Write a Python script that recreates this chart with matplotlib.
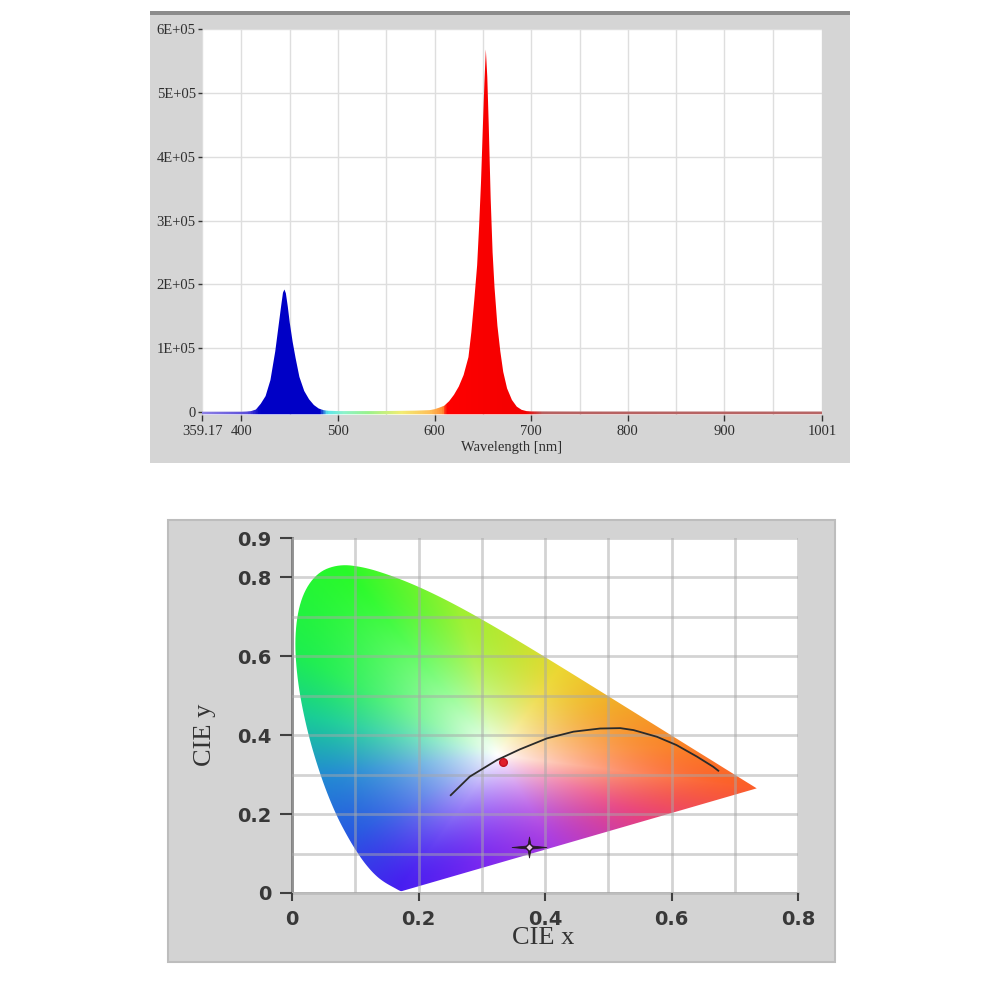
import numpy as np
import matplotlib
matplotlib.use("Agg")
import matplotlib.pyplot as plt
from matplotlib.patches import Rectangle, Polygon
from matplotlib.colors import LinearSegmentedColormap
from matplotlib.path import Path

# ---------------- data: emission spectrum ----------------
wavelength_nm = [359.17, 380, 400, 405, 410, 415, 420, 425, 430, 435, 438, 441, 443,
                 444.5, 446, 448, 450, 453, 456, 460, 465, 470, 475, 480, 485, 490,
                 500, 520, 540, 560, 580, 595, 600, 605, 610, 615, 620, 625, 630, 635,
                 638, 641, 644, 646, 648, 650, 651.5, 653, 654.5, 656, 658, 660, 662,
                 665, 668, 671, 675, 680, 685, 690, 695, 700, 750, 800, 900, 1001]
intensity_e5 = [0.005, 0.005, 0.005, 0.008, 0.015, 0.04, 0.13, 0.25, 0.5, 0.95, 1.3, 1.65, 1.87,
                1.92, 1.86, 1.65, 1.4, 1.1, 0.85, 0.55, 0.33, 0.2, 0.11, 0.055, 0.03, 0.02,
                0.015, 0.015, 0.015, 0.018, 0.022, 0.03, 0.045, 0.07, 0.1, 0.17, 0.27, 0.4, 0.58, 0.86,
                1.25, 1.75, 2.3, 2.9, 3.6, 4.5, 5.15, 5.68, 5.25, 4.5, 3.35, 2.5, 1.95,
                1.35, 0.95, 0.63, 0.37, 0.19, 0.085, 0.035, 0.015, 0.01, 0.008, 0.008, 0.008, 0.008]
x_tick_values = [359.17, 400, 500, 600, 700, 800, 900, 1001]
x_tick_labels = ["359.17", "400", "500", "600", "700", "800", "900", "1001"]
y_tick_values = [0, 1, 2, 3, 4, 5, 6]
y_tick_labels = ["0", "1E+05", "2E+05", "3E+05", "4E+05", "5E+05", "6E+05"]

# ---------------- data: CIE 1931 spectral locus ----------------
locus_x = [0.1741, 0.1740, 0.1738, 0.1736, 0.1733, 0.1730, 0.1726, 0.1721, 0.1714, 0.1703,
           0.1689, 0.1669, 0.1644, 0.1611, 0.1566, 0.1510, 0.1440, 0.1355, 0.1241, 0.1096,
           0.0913, 0.0687, 0.0454, 0.0235, 0.0082, 0.0039, 0.0139, 0.0389, 0.0743, 0.1142,
           0.1547, 0.1929, 0.2296, 0.2658, 0.3016, 0.3373, 0.3731, 0.4087, 0.4441, 0.4788,
           0.5125, 0.5448, 0.5752, 0.6029, 0.6270, 0.6482, 0.6658, 0.6801, 0.6915, 0.7006,
           0.7079, 0.7140, 0.7190, 0.7230, 0.7260, 0.7300, 0.7320, 0.7334, 0.7347]
locus_y = [0.0050, 0.0050, 0.0049, 0.0049, 0.0048, 0.0048, 0.0048, 0.0048, 0.0051, 0.0058,
           0.0069, 0.0086, 0.0109, 0.0138, 0.0177, 0.0227, 0.0297, 0.0399, 0.0578, 0.0868,
           0.1327, 0.2007, 0.2950, 0.4127, 0.5384, 0.6548, 0.7502, 0.8120, 0.8338, 0.8262,
           0.8059, 0.7816, 0.7543, 0.7243, 0.6923, 0.6589, 0.6245, 0.5896, 0.5547, 0.5202,
           0.4866, 0.4544, 0.4242, 0.3965, 0.3725, 0.3514, 0.3340, 0.3197, 0.3083, 0.2993,
           0.2920, 0.2859, 0.2809, 0.2770, 0.2740, 0.2700, 0.2680, 0.2666, 0.2653]
# black-body-like curve as drawn on the chart
curve_x = [0.251, 0.281, 0.324, 0.360, 0.403, 0.445, 0.487, 0.519, 0.540, 0.577, 0.608, 0.640, 0.666, 0.674]
curve_y = [0.248, 0.295, 0.337, 0.364, 0.392, 0.409, 0.417, 0.418, 0.413, 0.396, 0.375, 0.346, 0.320, 0.310]
point_red = (0.334, 0.333)
point_star = (0.374, 0.117)
cie_xticks = [0, 0.2, 0.4, 0.6, 0.8]
cie_xticklabels = ["0", "0.2", "0.4", "0.6", "0.8"]
cie_yticks = [0, 0.2, 0.4, 0.6, 0.8, 0.9]
cie_yticklabels = ["0", "0.2", "0.4", "0.6", "0.8", "0.9"]

# ---------------- figure ----------------
fig = plt.figure(figsize=(10, 10), dpi=100)
fig.patch.set_facecolor("white")

fig.add_artist(Rectangle((0.150, 0.537), 0.700, 0.451, transform=fig.transFigure,
                         fc="#d5d5d5", ec="none", zorder=-10))
fig.add_artist(Rectangle((0.150, 0.985), 0.700, 0.004, transform=fig.transFigure,
                         fc="#8c8c8c", ec="none", zorder=-9))
fig.add_artist(Rectangle((0.168, 0.038), 0.667, 0.442, transform=fig.transFigure,
                         fc="#d3d3d3", ec="#bdbdbd", lw=1.5, zorder=-10))

serif = "Liberation Serif"
tcol = "#2e2e2e"

# ---------------- top: spectrum ----------------
ax1 = fig.add_axes([0.202, 0.5854, 0.620, 0.3856])
ax1.set_facecolor("white")
xmin, xmax = 359.17, 1001
ymin, ymax = -0.04, 6.0

stops = [(359.17, (0.55, 0.50, 0.90)), (405, (0.35, 0.30, 0.85)), (418, (0.0, 0.0, 0.78)),
         (480, (0.0, 0.0, 0.78)), (488, (0.35, 0.90, 0.92)), (505, (0.55, 0.95, 0.80)),
         (530, (0.60, 0.95, 0.55)), (565, (0.95, 0.93, 0.45)), (595, (1.0, 0.75, 0.35)),
         (608, (1.0, 0.55, 0.20)), (612, (1.0, 0.0, 0.0)), (695, (0.95, 0.0, 0.0)),
         (712, (0.72, 0.38, 0.38)), (1001, (0.72, 0.40, 0.40))]
cmap = LinearSegmentedColormap.from_list(
    "spec", [((w - xmin) / (xmax - xmin), c) for w, c in stops])

poly = ax1.fill_between(wavelength_nm, -0.035, intensity_e5, facecolor="none", edgecolor="none")
grad = np.linspace(0, 1, 1400)[np.newaxis, :]
im = ax1.imshow(grad, cmap=cmap, aspect="auto", extent=[xmin, xmax, ymin, ymax],
                origin="lower", interpolation="bilinear", zorder=2)
im.set_clip_path(poly.get_paths()[0], transform=ax1.transData)
ax1.set_xlim(xmin, xmax)
ax1.set_ylim(ymin, ymax)

ax1.set_xticks(x_tick_values)
ax1.set_xticklabels(x_tick_labels)
ax1.set_xticks([450, 550, 650, 750, 850, 950], minor=True)
ax1.set_yticks(y_tick_values)
ax1.set_yticklabels(y_tick_labels)
ax1.grid(which="both", color="#dedede", lw=1.0, zorder=0)
ax1.set_axisbelow(True)
for s in ax1.spines.values():
    s.set_visible(False)
ax1.tick_params(which="minor", length=0)
ax1.tick_params(axis="x", which="major", length=4, width=1, color="#333333", pad=3.5,
                labelsize=10.5, labelcolor=tcol)
ax1.tick_params(axis="y", which="major", length=3, width=1, color="#333333", pad=1.5,
                labelsize=10.5, labelcolor=tcol)
for lab in ax1.get_xticklabels() + ax1.get_yticklabels():
    lab.set_family(serif)
fig.text(0.512, 1 - 0.447, "Wavelength [nm]", ha="center", va="center",
         family=serif, fontsize=10.5, color=tcol)

# ---------------- bottom: CIE diagram ----------------
ax2 = fig.add_axes([0.292, 0.107, 0.506, 0.355])
ax2.set_facecolor("white")

# smoothed outline of the locus (corner cutting for a soft edge)
pts = np.column_stack([locus_x, locus_y])
for _ in range(3):
    q = 0.75 * pts[:-1] + 0.25 * pts[1:]
    r = 0.25 * pts[:-1] + 0.75 * pts[1:]
    mid = np.empty((2 * len(q), 2))
    mid[0::2] = q
    mid[1::2] = r
    pts = np.vstack([pts[:1], mid, pts[-1:]])

# colour rendering: hue by direction from the white point, saturation by distance to edge
wp = np.array([0.325, 0.35])
line_t = np.linspace(0, 1, 200)[1:-1, None]
edge = np.vstack([pts, pts[-1] + (pts[0] - pts[-1]) * line_t])
ea = np.degrees(np.arctan2(edge[:, 1] - wp[1], edge[:, 0] - wp[0]))
er = np.hypot(edge[:, 0] - wp[0], edge[:, 1] - wp[1])
o = np.argsort(ea)
ea, er = ea[o], er[o]

hue_angles = [117, 141, 162, -170, -139, -115, -96, -69, -34, -11, 4, 35, 66, 99]
hue_colors = [(40, 250, 40), (30, 238, 80), (25, 205, 150), (35, 140, 210), (40, 90, 225),
              (70, 30, 240), (120, 40, 240), (170, 60, 225), (232, 65, 125), (252, 95, 40),
              (250, 130, 40), (242, 172, 40), (236, 215, 50), (160, 240, 50)]
ha_ = np.array(hue_angles, float)
hc = np.array(hue_colors, float) / 255.0
oh = np.argsort(ha_)
ha_, hc = ha_[oh], hc[oh]

nx, ny = 480, 540
xs = np.linspace(0, 0.8, nx)
ys = np.linspace(0, 0.9, ny)
XX, YY = np.meshgrid(xs, ys)
ang = np.degrees(np.arctan2(YY - wp[1], XX - wp[0]))
rad = np.hypot(XX - wp[0], YY - wp[1])
redge = np.interp(ang, ea, er, period=360)
s = np.clip(rad / redge, 0, 1)
f = 1 - (1 - s) ** 1.75
rgb = np.empty(XX.shape + (3,))
for c in range(3):
    cc = np.interp(ang, ha_, hc[:, c], period=360)
    rgb[..., c] = 1.0 + (cc - 1.0) * f
rgb = np.clip(rgb, 0, 1)

locus = Polygon(pts, closed=True, fc="none", ec="none")
ax2.add_patch(locus)
im2 = ax2.imshow(rgb, origin="lower", extent=[0, 0.8, 0, 0.9], aspect="auto",
                 interpolation="bilinear", zorder=1)
im2.set_clip_path(locus)
ax2.set_xlim(0, 0.8)
ax2.set_ylim(0, 0.9)

ax2.set_xticks(cie_xticks)
ax2.set_xticklabels(cie_xticklabels)
ax2.set_yticks(cie_yticks)
ax2.set_yticklabels(cie_yticklabels)
ax2.set_xticks(np.arange(0.1, 0.8, 0.2), minor=True)
ax2.set_yticks([0.1, 0.3, 0.5, 0.7], minor=True)
ax2.set_axisbelow(False)
ax2.grid(which="both", color="#a8a8a8", lw=2.0, alpha=0.5)
ax2.tick_params(which="minor", length=0)
ax2.tick_params(axis="both", which="major", labelsize=14, labelcolor="#383838",
                color="#404040", width=1.5)
ax2.tick_params(axis="y", length=9, pad=6)
ax2.tick_params(axis="x", length=6, pad=6)
for lab in ax2.get_xticklabels() + ax2.get_yticklabels():
    lab.set_family("DejaVu Sans")
    lab.set_fontweight("bold")
for k in ["top", "right"]:
    ax2.spines[k].set_visible(False)
ax2.spines["left"].set_color("#7a7a7a")
ax2.spines["left"].set_linewidth(2)
ax2.spines["bottom"].set_color("#bdbdbd")
ax2.spines["bottom"].set_linewidth(2)

ax2.plot(curve_x, curve_y, color="#2a2a2a", lw=1.3, zorder=4)
ax2.plot([point_red[0]], [point_red[1]], "o", ms=5.5, color="#e0202c", mec="#c01020", zorder=5)

star = Path([(0, 0.6), (0.09, 0.09), (1, 0), (0.09, -0.09), (0, -0.6), (-0.09, -0.09),
             (-1, 0), (-0.09, 0.09), (0, 0.6)], closed=True)
ax2.plot([point_star[0]], [point_star[1]], marker=star, ms=25, color="#2a1a2a",
         mec="#2a1a2a", mew=0.6, ls="none", zorder=5)
ax2.plot([point_star[0]], [point_star[1]], marker="D", ms=4, mfc="#e8c8e8",
         mec="#2a1a2a", mew=1.0, ls="none", zorder=6)

fig.text(0.543, 1 - 0.938, "CIE x", ha="center", va="center", family=serif,
         fontsize=19, color="#333333")
fig.text(0.205, 1 - 0.735, "CIE y", ha="center", va="center", rotation=90,
         family=serif, fontsize=19, color="#333333")

fig.savefig("out.png", dpi=100)
